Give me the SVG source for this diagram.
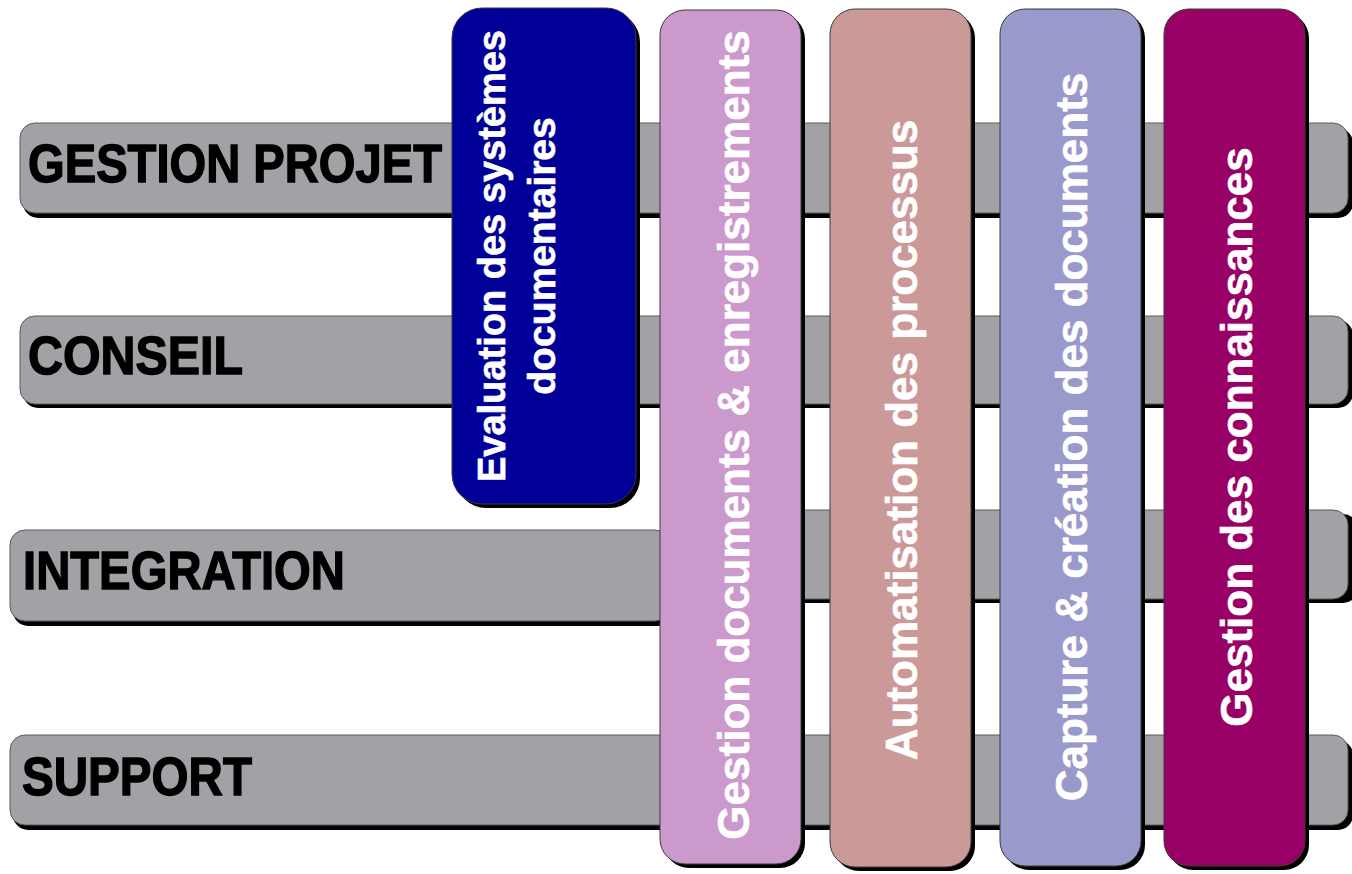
<svg xmlns="http://www.w3.org/2000/svg" width="1352" height="874" viewBox="0 0 1352 874">
<style>
.bar{fill:#a2a1a6;stroke:#5a5a5e;stroke-width:1}
.sh{fill:#000}
.lbl{font-family:"Liberation Sans",Arial,sans-serif;font-weight:bold;font-size:54px;fill:#000;stroke:#000;stroke-width:1.4}
.col{stroke:#3a3a3a;stroke-width:1}
.ct{font-family:"Liberation Sans",Arial,sans-serif;font-weight:bold;font-size:44px;fill:#fff;stroke:#fff;stroke-width:0.6;text-anchor:middle}
</style>
<rect width="1352" height="874" fill="#fff"/>
<g id="bar-gestion-projet">
<rect class="sh" x="23" y="128" width="1330" height="90" rx="15"/>
<rect class="bar" x="20" y="123" width="1328" height="90" rx="15"/>
<text class="lbl" x="28" y="182" textLength="414" lengthAdjust="spacingAndGlyphs">GESTION PROJET</text>
</g>
<g id="bar-conseil">
<rect class="sh" x="23" y="320" width="1330" height="88" rx="15"/>
<rect class="bar" x="20" y="316" width="1328" height="88" rx="15"/>
<text class="lbl" x="28" y="374" textLength="215" lengthAdjust="spacingAndGlyphs">CONSEIL</text>
</g>
<g id="bar-integration">
<rect class="sh" x="13" y="535" width="660" height="91" rx="15"/>
<rect class="bar" x="10" y="530" width="660" height="91" rx="15"/>
<rect class="sh" x="778" y="514" width="580" height="89" rx="15"/>
<rect class="bar" x="775" y="510" width="573" height="89" rx="15"/>
<text class="lbl" x="23" y="589" textLength="322" lengthAdjust="spacingAndGlyphs">INTEGRATION</text>
</g>
<g id="bar-support">
<rect class="sh" x="13" y="740" width="1340" height="90" rx="15"/>
<rect class="bar" x="10" y="735" width="1338" height="90" rx="15"/>
<text class="lbl" x="22" y="795" textLength="230" lengthAdjust="spacingAndGlyphs">SUPPORT</text>
</g>
<g id="col-evaluation">
<rect class="sh" x="456" y="12" width="184" height="496" rx="30"/>
<rect class="col" x="452" y="8" width="184" height="496" rx="30" fill="#000099"/>
<text class="ct" style="font-size:38px" transform="translate(505,256) rotate(-90)">Evaluation des systèmes</text>
<text class="ct" style="font-size:39px" transform="translate(555,256) rotate(-90)">documentaires</text>
</g>
<g id="col-gestion-documents">
<rect class="sh" x="664" y="14" width="141" height="854" rx="25"/>
<rect class="col" x="660" y="10" width="141" height="854" rx="25" fill="#cc99cc"/>
<text class="ct" transform="translate(749,435) rotate(-90)">Gestion documents &amp; enregistrements</text>
</g>
<g id="col-automatisation">
<rect class="sh" x="834" y="13" width="141" height="858" rx="25"/>
<rect class="col" x="830" y="9" width="141" height="858" rx="25" fill="#cc9999"/>
<text class="ct" transform="translate(917,440) rotate(-90)">Automatisation des processus</text>
</g>
<g id="col-capture">
<rect class="sh" x="1004" y="13" width="141" height="857" rx="25"/>
<rect class="col" x="1000" y="9" width="141" height="857" rx="25" fill="#9999cc"/>
<text class="ct" transform="translate(1087,437) rotate(-90)">Capture &amp; création des documents</text>
</g>
<g id="col-connaissances">
<rect class="sh" x="1168" y="13" width="141" height="857" rx="25"/>
<rect class="col" x="1164" y="9" width="141" height="857" rx="25" fill="#990066"/>
<text class="ct" transform="translate(1252,437) rotate(-90)">Gestion des connaissances</text>
</g>
<g id="connectors"/>
</svg>
